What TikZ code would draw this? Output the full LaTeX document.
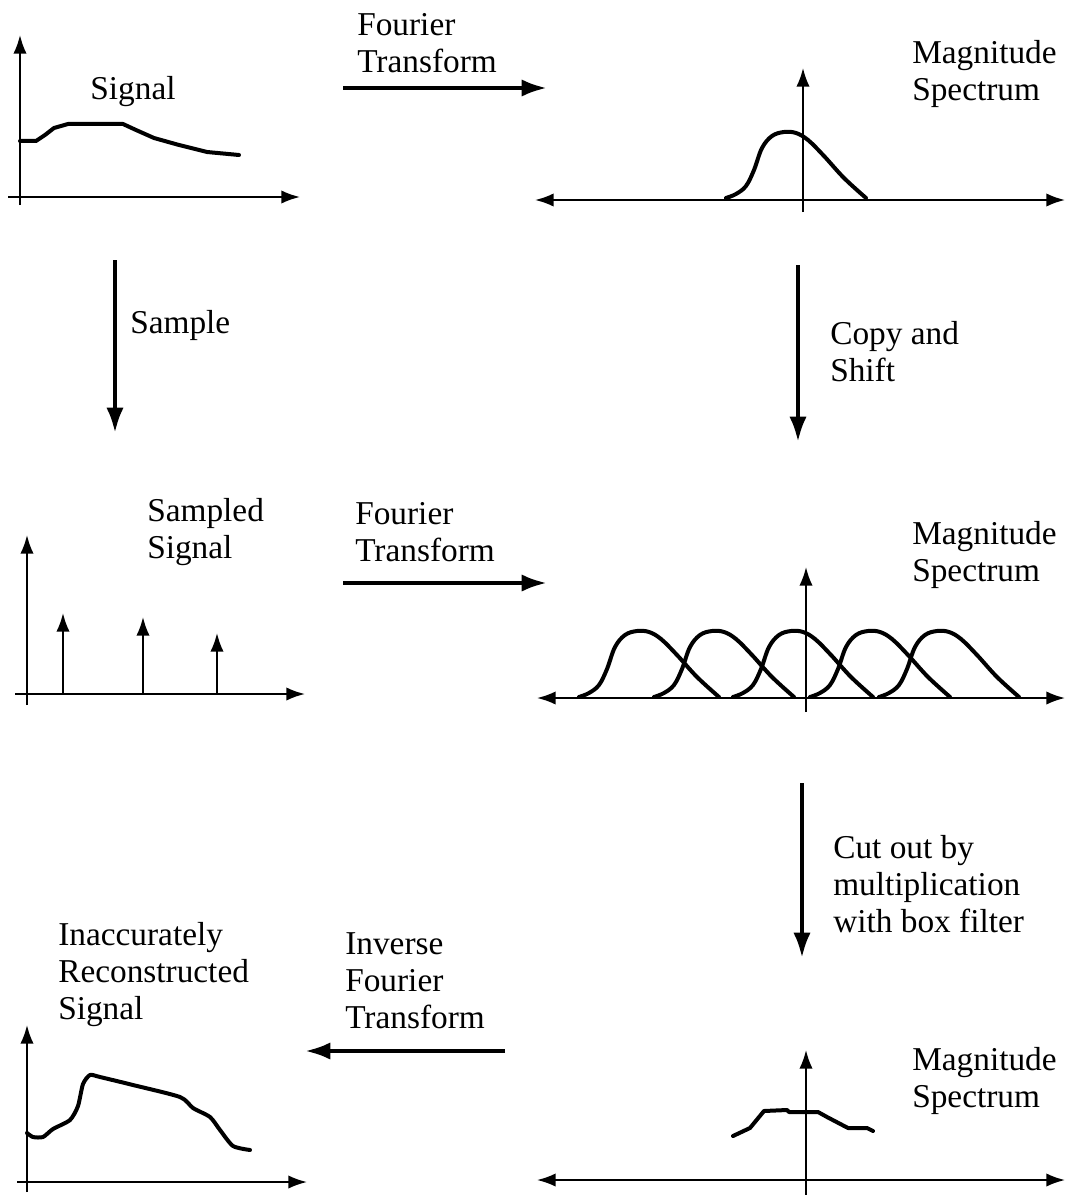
\documentclass[tikz,border=0pt]{standalone}
\usepackage{fontspec}
\setmainfont{Liberation Serif}
\usetikzlibrary{arrows.meta}
\tikzset{
  axisline/.style={line width=1.5pt, -{Latex[length=14pt,width=10pt]}},
  axisboth/.style={line width=1.5pt, {Latex[length=14pt,width=10pt]}-{Latex[length=14pt,width=10pt]}},
  bigarrow/.style={line width=3.2pt, -{Latex[length=19pt,width=13pt]}},
  curve/.style={line width=3pt, line join=round, line cap=round},
  lbl/.style={font=\fontsize{25}{27.75}\selectfont, align=left, inner sep=0pt, anchor=west},
  bump/.pic={\draw[curve] plot[smooth, tension=0.6] coordinates {(0,0) (10,-4) (20,-12) (28,-28) (36,-50) (46,-62) (58,-66) (70,-65) (82,-58) (98,-42) (118,-20) (140,0)};}
}
\begin{document}
\begin{tikzpicture}[x=0.75pt, y=-0.75pt]
\useasboundingbox (0,0) rectangle (1067,1195);

% ---------- Panel A: Signal ----------
\coordinate (a-yb) at (20,205); \coordinate (a-yt) at (20,35);
\coordinate (a-xl) at (8,197);  \coordinate (a-xr) at (300,197);
\draw[axisline] (a-yb) -- (a-yt);
\draw[axisline] (a-xl) -- (a-xr);
\draw[curve] (20,141) -- (36,141) -- (45,135) -- (54,128) -- (68,124) -- (123,124) -- (136,130) -- (154,138) -- (179,145) -- (207,152) -- (239,155);
\node[lbl, anchor=center] (sig) at (133,92) {Signal};

% ---------- Panel B: Magnitude spectrum ----------
\coordinate (b-xl) at (535,200); \coordinate (b-xr) at (1065,200);
\coordinate (b-yb) at (803,212); \coordinate (b-yt) at (803,68);
\draw[axisboth] (b-xl) -- (b-xr);
\draw[axisline] (b-yb) -- (b-yt);
\pic at (726,198) {bump};
\node[lbl] (ms1) at (912,74) {Magnitude\\Spectrum};

% ---------- Fourier Transform 1 ----------
\coordinate (ft1s) at (343,88); \coordinate (ft1e) at (547,88);
\draw[bigarrow] (ft1s) -- (ft1e);
\node[lbl] (ft1) at (357,43) {Fourier\\Transform};

% ---------- Sample ----------
\coordinate (sas) at (115,260); \coordinate (sae) at (115,433);
\draw[bigarrow] (sas) -- (sae);
\node[lbl] (sa) at (130,325) {Sample};

% ---------- Copy and Shift ----------
\coordinate (css) at (798,265); \coordinate (cse) at (798,442);
\draw[bigarrow] (css) -- (cse);
\node[lbl] (cs) at (830,352) {Copy and\\Shift};

% ---------- Panel C: Sampled signal ----------
\coordinate (c-yb) at (27,705); \coordinate (c-yt) at (27,535);
\coordinate (c-xl) at (15,694); \coordinate (c-xr) at (305,694);
\draw[axisline] (c-yb) -- (c-yt);
\draw[axisline] (c-xl) -- (c-xr);
\coordinate (s1b) at (63,694);  \coordinate (s1t) at (63,613);
\coordinate (s2b) at (143,694); \coordinate (s2t) at (143,617);
\coordinate (s3b) at (217,694); \coordinate (s3t) at (217,633);
\draw[axisline] (s1b) -- (s1t);
\draw[axisline] (s2b) -- (s2t);
\draw[axisline] (s3b) -- (s3t);
\node[lbl] (ss) at (147,532) {Sampled\\Signal};

% ---------- Fourier Transform 2 ----------
\coordinate (ft2s) at (343,583); \coordinate (ft2e) at (547,583);
\draw[bigarrow] (ft2s) -- (ft2e);
\node[lbl] (ft2) at (355,532) {Fourier\\Transform};

% ---------- Panel D: replicated spectrum ----------
\coordinate (d-xl) at (537,698); \coordinate (d-xr) at (1065,698);
\coordinate (d-yb) at (806,712); \coordinate (d-yt) at (806,567);
\draw[axisboth] (d-xl) -- (d-xr);
\draw[axisline] (d-yb) -- (d-yt);
\foreach \s in {579,654,733,810,879} { \pic at (\s,697) {bump}; }
\node[lbl] (ms2) at (912,555) {Magnitude\\Spectrum};

% ---------- Cut out ----------
\coordinate (cos) at (802,783); \coordinate (coe) at (802,958);
\draw[bigarrow] (cos) -- (coe);
\node[lbl] (co) at (833,884) {Cut out by\\multiplication\\with box filter};

% ---------- Panel E: cut spectrum ----------
\coordinate (e-xl) at (537,1180); \coordinate (e-xr) at (1065,1180);
\coordinate (e-yb) at (806,1195); \coordinate (e-yt) at (806,1050);
\draw[axisboth] (e-xl) -- (e-xr);
\draw[axisline] (e-yb) -- (e-yt);
\draw[curve] (733,1136) -- (750,1128) -- (764,1111) -- (787,1110) -- (789,1112) -- (818,1112) -- (827,1117) -- (848,1128) -- (867,1128) -- (873,1131);
\node[lbl] (ms3) at (912,1081) {Magnitude\\Spectrum};

% ---------- Inverse Fourier Transform ----------
\coordinate (ifs) at (505,1051); \coordinate (ife) at (305,1051);
\draw[bigarrow] (ifs) -- (ife);
\node[lbl] (ift) at (345,981) {Inverse\\Fourier\\Transform};

% ---------- Panel F: reconstructed ----------
\coordinate (f-yb) at (27,1192); \coordinate (f-yt) at (27,1025);
\coordinate (f-xl) at (17,1182); \coordinate (f-xr) at (307,1182);
\draw[axisline] (f-yb) -- (f-yt);
\draw[axisline] (f-xl) -- (f-xr);
\draw[curve] plot[smooth, tension=0.4] coordinates {(27,1133) (33,1137) (43,1137) (53,1129) (70,1120) (78,1106) (83,1084) (90,1075) (100,1077) (133,1085) (180,1097) (193,1108) (210,1117) (220,1130) (233,1146) (250,1150)};
\node[lbl] (rec) at (58,975) {Inaccurately\\Reconstructed\\Signal};
\end{tikzpicture}
\end{document}
